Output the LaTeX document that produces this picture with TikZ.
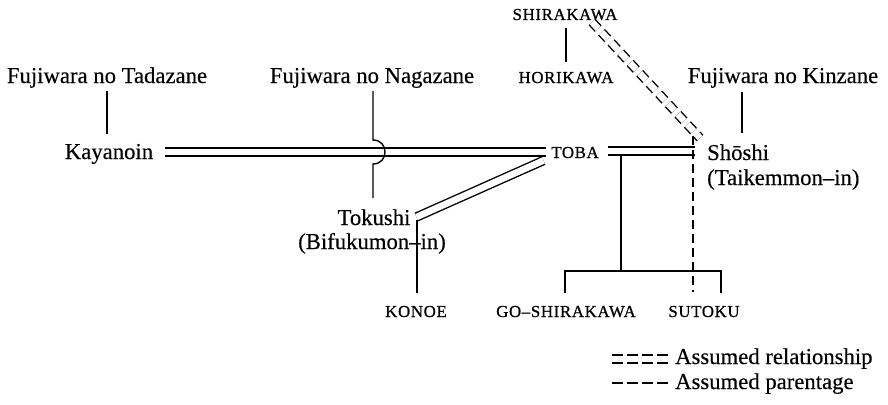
\documentclass[tikz,border=0pt]{standalone}
\usepackage{fontspec}
\setmainfont[FakeBold=0.3]{Liberation Serif}
\newfontfamily\capsfont[LetterSpace=4, FakeBold=0.8]{Liberation Serif}
\begin{document}
\begin{tikzpicture}[x=1pt,y=-1pt,
  lbl/.style={inner sep=0pt, anchor=base, font=\fontsize{22.7}{27}\selectfont},
  smcap/.style={inner sep=0pt, anchor=base, font=\capsfont\fontsize{16.8}{20}\selectfont},
  ln/.style={line width=1.4pt},
  dbl/.style={double, double distance=6.6pt, line width=1.4pt},
  dsh/.style={line width=1.4pt, dash pattern=on 9pt off 5pt},
  ddsh/.style={draw=white, line width=6.6pt, dash pattern=on 9pt off 5pt,
    preaction={draw=black, line width=9.4pt, dash pattern=on 9pt off 5pt}},
  legdsh/.style={line width=1.4pt, dash pattern=on 11pt off 4pt},
  legddsh/.style={draw=white, line width=6.6pt, dash pattern=on 11pt off 4pt,
    preaction={draw=black, line width=9.4pt, dash pattern=on 11pt off 4pt}}]
\useasboundingbox (0,0) rectangle (888,404);

% people
\node[lbl] (tadazane) at (107,83) {Fujiwara no Tadazane};
\node[lbl] (nagazane) at (372,83) {Fujiwara no Nagazane};
\node[lbl] (kinzane) at (783,83) {Fujiwara no Kinzane};
\node[lbl] (kayanoin) at (109,159) {Kayanoin};
\node[smcap] (toba) at (575,158) {TOBA};
\node[smcap] (shirakawa) at (565,20) {SHIRAKAWA};
\node[smcap] (horikawa) at (566,83) {HORIKAWA};
\node[lbl, anchor=base west] (shoshi) at (707,160) {Shōshi};
\node[lbl, anchor=base west] (taikemmon) at (707,185) {(Taikemmon–in)};
\node[lbl] (tokushi) at (374,225) {Tokushi};
\node[lbl] (bifukumon) at (372,249) {(Bifukumon–in)};
\node[smcap] (konoe) at (416,317) {KONOE};
\node[smcap] (goshirakawa) at (566,317) {GO–SHIRAKAWA};
\node[smcap] (sutoku) at (704,317) {SUTOKU};
\node[lbl, anchor=base west] (leg1) at (675,364) {Assumed relationship};
\node[lbl, anchor=base west] (leg2) at (675,389) {Assumed parentage};

% junction points
\coordinate (tadB) at (107,91);
\coordinate (kayT) at (107,134);
\coordinate (kayR) at (165,152);
\coordinate (tobaL) at (546,152);
\coordinate (nagB) at (373,91);
\coordinate (hopA) at (373,140);
\coordinate (hopB) at (373,164);
\coordinate (tokT) at (373,198);
\coordinate (tokR) at (416.5,217);
\coordinate (tobaLL) at (543.5,160.5);
\coordinate (konT) at (417,220);
\coordinate (konB) at (417,293);
\coordinate (tobaR) at (608,151);
\coordinate (shoL) at (695,151);
\coordinate (shiraR) at (592,22);
\coordinate (shoTL) at (700,138);
\coordinate (sutT) at (693,136);
\coordinate (sutB) at (693,292);
\coordinate (kinB) at (742,92);
\coordinate (shoT) at (742,133);
\coordinate (shiraB) at (566,28);
\coordinate (horiT) at (566,62);
\coordinate (mar) at (621,155);
\coordinate (bar) at (621,271);
\coordinate (barL) at (565,271);
\coordinate (barR) at (721,271);
\coordinate (goT) at (565,293);
\coordinate (suT) at (721,293);
\coordinate (leg1L) at (612,359);
\coordinate (leg1R) at (668,359);
\coordinate (leg2L) at (612,383);
\coordinate (leg2R) at (668,383);

% connectors
\draw[ln] (tadB) -- (kayT);
\draw[dbl] (kayR) -- (tobaL);
\draw[ln] (nagB) -- (hopA) .. controls (389,140) and (389,164) .. (hopB) -- (tokT);
\draw[dbl] (tokR) -- (tobaLL);
\draw[ln] (konT) -- (konB);
\draw[dbl] (tobaR) -- (shoL);
\draw[ddsh] (shiraR) -- (shoTL);
\draw[dsh] (sutT) -- (sutB);
\draw[ln] (kinB) -- (shoT);
\draw[ln] (shiraB) -- (horiT);
\draw[ln] (mar) -- (bar);
\draw[ln] (goT) -- (barL) -- (barR) -- (suT);

% legend
\draw[legddsh] (leg1L) -- (leg1R);
\draw[legdsh] (leg2L) -- (leg2R);
\end{tikzpicture}
\end{document}
